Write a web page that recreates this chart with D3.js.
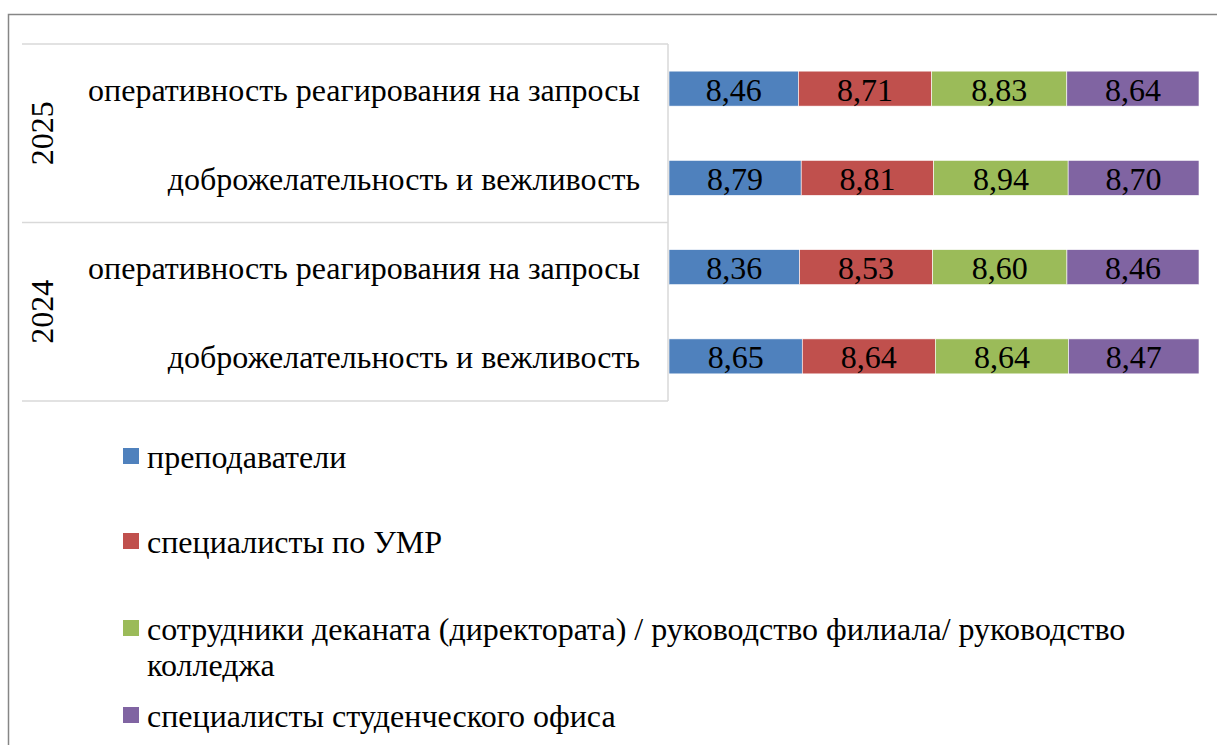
<!DOCTYPE html>
<html><head><meta charset="utf-8"><script src="https://cdn.jsdelivr.net/npm/d3@7"></script></head>
<body style="margin:0">
<svg width="1217" height="745"></svg>
<script>
// rows, top to bottom
var years = ["2025", "2024"]
var criteria = ["оперативность реагирования на запросы", "доброжелательность и вежливость"]
var seriesNames = [
    "преподаватели",
    "специалисты по УМР",
    "сотрудники деканата (директората) / руководство филиала/ руководство колледжа",
    "специалисты студенческого офиса"
]
// values per series, rows: 2025-опер, 2025-добр, 2024-опер, 2024-добр
var teachers = [8.46, 8.79, 8.36, 8.65]
var umr = [8.71, 8.81, 8.53, 8.64]
var deans = [8.83, 8.94, 8.60, 8.64]
var office = [8.64, 8.70, 8.46, 8.47]

var colors = ["#4f81bd", "#c0504d", "#9bbb59", "#8064a2"]

var svg = d3.select("svg")

// chart border
svg.append("rect")
    .attr("x", 8.5).attr("y", 14.5)
    .attr("width", 1230).attr("height", 760)
    .attr("fill", "none")
    .attr("stroke", "#868686")
    .attr("stroke-width", 1.5)

var rows = []
years.forEach(function (yr) {
    criteria.forEach(function (c) { rows.push({ year: yr, crit: c, key: yr + "|" + c }) })
})
var allSeries = [teachers, umr, deans, office]
rows.forEach(function (r, i) {
    allSeries.forEach(function (s, j) { r["s" + j] = s[i] })
})

var keys = ["s0", "s1", "s2", "s3"]
var stacked = d3.stack().keys(keys).offset(d3.stackOffsetExpand)(rows)

var x = d3.scaleLinear().domain([0, 1]).range([669, 1199])
var y = d3.scaleBand()
    .domain(rows.map((d) => d.key))
    .range([44, 401])
    .paddingInner(0.608)
    .paddingOuter(0.304)

// bars
var layer = svg.selectAll(".layer")
    .data(stacked)
    .enter()
    .append("g")
    .attr("fill", (d, i) => colors[i])

layer.selectAll("rect")
    .data((d) => d)
    .enter()
    .append("rect")
    .attr("x", (d) => x(d[0]))
    .attr("y", (d) => y(d.data.key))
    .attr("width", (d) => x(d[1]) - x(d[0]))
    .attr("height", y.bandwidth())
    .attr("stroke", "#ffffff")
    .attr("stroke-width", 0.6)

layer.selectAll("text")
    .data((d) => d.map((p) => ({ p: p, key: d.key })))
    .enter()
    .append("text")
    .attr("x", (d) => (x(d.p[0]) + x(d.p[1])) / 2)
    .attr("y", (d) => y(d.p.data.key) + y.bandwidth() / 2 + 12)
    .attr("text-anchor", "middle")
    .attr("font-family", "Liberation Serif")
    .attr("font-size", 32)
    .attr("fill", "#000")
    .text((d) => d3.format(".2f")(d.p.data[d.key]).replace(".", ","))

// multi-level category axis
var axisG = svg.append("g")
var step = y.step()
var axisTop = 44
var gridColor = "#d9d9d9"
;[44, 44 + step * 2, 401].forEach(function (yy) {
    axisG.append("line")
        .attr("x1", 22).attr("x2", 668)
        .attr("y1", yy).attr("y2", yy)
        .attr("stroke", gridColor).attr("stroke-width", 1.5)
})
axisG.append("line")
    .attr("x1", 668).attr("x2", 668)
    .attr("y1", 44).attr("y2", 401)
    .attr("stroke", gridColor).attr("stroke-width", 1.5)

axisG.selectAll(".crit")
    .data(rows)
    .enter()
    .append("text")
    .attr("x", 640)
    .attr("y", (d) => y(d.key) + y.bandwidth() / 2 + 12)
    .attr("text-anchor", "end")
    .attr("font-family", "Liberation Serif")
    .attr("font-size", 32)
    .text((d) => d.crit)

axisG.selectAll(".year")
    .data(years)
    .enter()
    .append("text")
    .attr("transform", (d, i) => "translate(53," + (axisTop + step * (2 * i + 1)) + ") rotate(-90)")
    .attr("text-anchor", "middle")
    .attr("font-family", "Liberation Serif")
    .attr("font-size", 32)
    .text((d) => d)

// legend
var legendRows = [
    { lines: ["преподаватели"], base: 468 },
    { lines: ["специалисты по УМР"], base: 553 },
    { lines: ["сотрудники деканата (директората) / руководство филиала/ руководство", "колледжа"], base: 640 },
    { lines: ["специалисты студенческого офиса"], base: 727 }
]
var legend = svg.selectAll(".legend")
    .data(legendRows)
    .enter()
    .append("g")

legend.append("rect")
    .attr("x", 123)
    .attr("y", (d) => d.base - 20)
    .attr("width", 16)
    .attr("height", 16)
    .attr("fill", (d, i) => colors[i])

legend.append("text")
    .attr("x", 147)
    .attr("y", (d) => d.base)
    .attr("font-family", "Liberation Serif")
    .attr("font-size", 32)
    .selectAll("tspan")
    .data((d) => d.lines)
    .enter()
    .append("tspan")
    .attr("x", 147)
    .attr("dy", (d, i) => i === 0 ? 0 : 36)
    .text((d) => d)
</script>
</body></html>
